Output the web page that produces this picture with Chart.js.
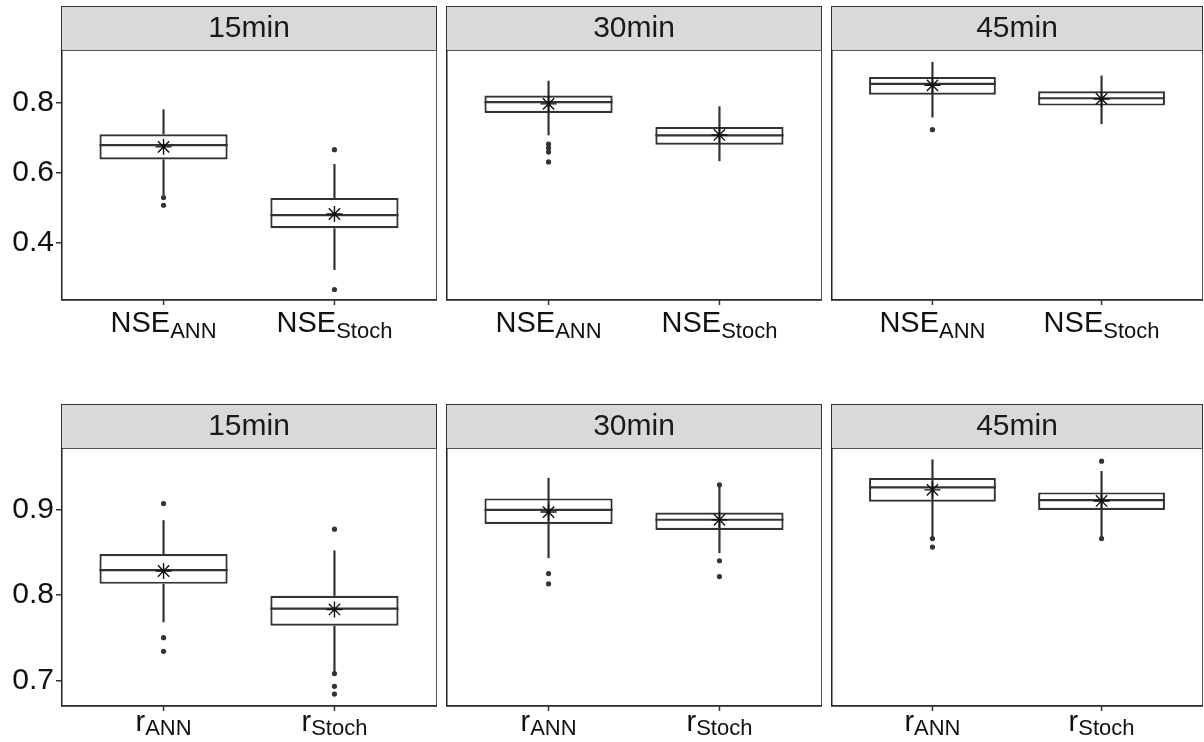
<!DOCTYPE html>
<html lang="en">
<head>
<meta charset="UTF-8">
<title>NSE and r boxplots</title>
<script src="https://cdn.jsdelivr.net/npm/chart.js"></script>
<style>
    body {
        margin: 0;
        background: #fff;
        width: 1204px;
        height: 742px;
        overflow: hidden;
        position: relative;
    }
    .panel {
        position: absolute;
    }
</style>
</head>
<body>
<script>
    // facets and groups
    const windows = ['15min', '30min', '45min'];
    const models = ['ANN', 'Stoch'];
    const xPos = [1, 2];

    // NSE row, [window][model]
    const nseLow = [[0.536, 0.322], [0.707, 0.633], [0.758, 0.739]];
    const nseQ1 = [[0.638, 0.441], [0.771, 0.680], [0.823, 0.792]];
    const nseMedian = [[0.679, 0.479], [0.802, 0.707], [0.854, 0.813]];
    const nseQ3 = [[0.710, 0.528], [0.821, 0.731], [0.874, 0.833]];
    const nseHigh = [[0.781, 0.625], [0.863, 0.790], [0.917, 0.878]];
    const nseMean = [[0.674, 0.482], [0.797, 0.708], [0.850, 0.811]];
    const nseOutliers = [
        [[0.529, 0.507], [0.666, 0.266]],
        [[0.682, 0.671, 0.659, 0.631], []],
        [[0.723], []]
    ];
    const nseTicks = [0.4, 0.6, 0.8];
    const nseRange = [0.236, 0.951];

    // r row, [window][model]
    const rLow = [[0.768, 0.710], [0.843, 0.849], [0.868, 0.868]];
    const rQ1 = [[0.813, 0.764], [0.883, 0.876], [0.909, 0.8995]];
    const rMedian = [[0.829, 0.784], [0.8995, 0.888], [0.926, 0.911]];
    const rQ3 = [[0.848, 0.799], [0.913, 0.8965], [0.937, 0.920]];
    const rHigh = [[0.8875, 0.852], [0.937, 0.927], [0.9586, 0.945]];
    const rMean = [[0.828, 0.783], [0.897, 0.888], [0.923, 0.910]];
    const rOutliers = [
        [[0.907, 0.750, 0.734], [0.877, 0.708, 0.693, 0.684]],
        [[0.825, 0.813], [0.929, 0.840, 0.8215]],
        [[0.866, 0.856], [0.9566, 0.866]]
    ];
    const rTicks = [0.7, 0.8, 0.9];
    const rRange = [0.67, 0.972];

    const rows = [
        { metric: 'NSE', low: nseLow, q1: nseQ1, med: nseMedian, q3: nseQ3, high: nseHigh, mean: nseMean, out: nseOutliers, ticks: nseTicks, range: nseRange,
          top: 0, height: 345, padTop: 50, padBottom: 45, labelBase: 32, subDrop: 5.5 },
        { metric: 'r', low: rLow, q1: rQ1, med: rMedian, q3: rQ3, high: rHigh, mean: rMean, out: rOutliers, ticks: rTicks, range: rRange,
          top: 395, height: 347, padTop: 53, padBottom: 36, labelBase: 25, subDrop: 4 }
    ];
    const cols = [
        { left: 0, width: 440, padLeft: 0, padRight: 3, yAxis: true, through: false },
        { left: 443, width: 382, padLeft: 3, padRight: 3, yAxis: false, through: true },
        { left: 828, width: 376, padLeft: 3, padRight: 1, yAxis: false, through: true }
    ];

    const FONT = '"Liberation Sans", Arial, sans-serif';
    const INK = '#333333';
    Chart.defaults.font.family = FONT;

    // strip, whiskers, medians, frame and subscript labels
    const facetPlugin = {
        id: 'facetBox',
        beforeDraw(chart, args, p) {
            const { ctx, chartArea: a } = chart;
            const h = 44;
            ctx.save();
            ctx.fillStyle = '#d9d9d9';
            ctx.fillRect(a.left, a.top - h, a.right - a.left, h);
            ctx.strokeStyle = INK;
            ctx.lineWidth = 1;
            ctx.strokeRect(a.left + 0.5, a.top - h + 0.5, a.right - a.left - 1, h);
            ctx.fillStyle = '#1a1a1a';
            ctx.font = '30px ' + FONT;
            ctx.textAlign = 'center';
            ctx.textBaseline = 'middle';
            ctx.fillText(p.title, (a.left + a.right) / 2, a.top - h / 2 + 1);
            ctx.restore();
        },
        afterDatasetDraw(chart, args, p) {
            if (args.index !== 0) return;
            const { ctx } = chart;
            const xs = chart.scales.x, ys = chart.scales.y;
            const bars = chart.getDatasetMeta(0).data;
            ctx.save();
            ctx.strokeStyle = INK;
            ctx.lineWidth = 2.2;
            xPos.forEach((xv, i) => {
                const px = xs.getPixelForValue(xv);
                const hw = bars[i].width / 2;
                const seg = (v0, v1) => {
                    ctx.beginPath();
                    ctx.moveTo(px, ys.getPixelForValue(v0));
                    ctx.lineTo(px, ys.getPixelForValue(v1));
                    ctx.stroke();
                };
                if (p.through) {
                    seg(p.low[i], p.high[i]);
                } else {
                    seg(p.low[i], p.q1[i]);
                    seg(p.q3[i], p.high[i]);
                }
                const my = ys.getPixelForValue(p.med[i]);
                ctx.beginPath();
                ctx.moveTo(px - hw, my);
                ctx.lineTo(px + hw, my);
                ctx.stroke();
            });
            ctx.restore();
        },
        afterDraw(chart, args, p) {
            const { ctx, chartArea: a } = chart;
            const xs = chart.scales.x;
            ctx.save();
            ctx.strokeStyle = '#555';
            ctx.lineWidth = 1;
            ctx.strokeRect(a.left + 0.5, a.top + 0.5, a.right - a.left - 1, a.bottom - a.top - 1);
            ctx.strokeStyle = '#222';
            ctx.lineWidth = 1.5;
            ctx.beginPath();
            ctx.moveTo(a.left + 0.75, a.top);
            ctx.lineTo(a.left + 0.75, a.bottom);
            ctx.lineTo(a.right, a.bottom);
            ctx.stroke();
            ctx.strokeStyle = INK;
            xPos.forEach((xv, i) => {
                const px = xs.getPixelForValue(xv);
                ctx.beginPath();
                ctx.moveTo(px, a.bottom);
                ctx.lineTo(px, a.bottom + 5);
                ctx.stroke();
                ctx.font = '29px ' + FONT;
                const wm = ctx.measureText(p.metric).width;
                ctx.font = '22px ' + FONT;
                const ws = ctx.measureText(models[i]).width;
                const x0 = px - (wm + ws) / 2;
                ctx.fillStyle = '#111';
                ctx.textAlign = 'left';
                ctx.textBaseline = 'alphabetic';
                ctx.font = '29px ' + FONT;
                ctx.fillText(p.metric, x0, a.bottom + p.labelBase);
                ctx.font = '22px ' + FONT;
                ctx.fillText(models[i], x0 + wm, a.bottom + p.labelBase + p.subDrop);
            });
            ctx.restore();
        }
    };

    rows.forEach((row, r) => {
        cols.forEach((col, c) => {
            const div = document.createElement('div');
            div.className = 'panel';
            div.style.left = col.left + 'px';
            div.style.top = row.top + 'px';
            div.style.width = col.width + 'px';
            div.style.height = row.height + 'px';
            const canvas = document.createElement('canvas');
            canvas.width = col.width;
            canvas.height = row.height;
            div.appendChild(canvas);
            document.body.appendChild(div);

            const boxes = xPos.map((x, i) => ({ x: x, y: [row.q1[c][i], row.q3[c][i]] }));
            const outliers = [];
            xPos.forEach((x, i) => row.out[c][i].forEach(v => outliers.push({ x: x, y: v })));
            const means = xPos.map((x, i) => ({ x: x, y: row.mean[c][i] }));

            new Chart(canvas.getContext('2d'), {
                type: 'bar',
                data: {
                    datasets: [
                        { type: 'bar', data: boxes, backgroundColor: '#ffffff', borderColor: INK, borderWidth: 2.2,
                          borderSkipped: false, barPercentage: 0.75, categoryPercentage: 1, order: 3 },
                        { type: 'scatter', data: outliers, pointRadius: 2.6, backgroundColor: INK, borderWidth: 0, order: 2 },
                        { type: 'scatter', data: means, pointStyle: 'star', pointRadius: 8, borderColor: '#111',
                          borderWidth: 1.4, backgroundColor: 'rgba(0,0,0,0)', order: 1 }
                    ]
                },
                options: {
                    responsive: false,
                    animation: false,
                    events: [],
                    layout: {
                        autoPadding: false,
                        padding: { top: row.padTop, bottom: row.padBottom, left: col.padLeft, right: col.padRight }
                    },
                    plugins: {
                        legend: { display: false },
                        tooltip: { enabled: false },
                        facetBox: {
                            title: windows[c], metric: row.metric, through: col.through,
                            low: row.low[c], q1: row.q1[c], med: row.med[c], q3: row.q3[c], high: row.high[c],
                            labelBase: row.labelBase, subDrop: row.subDrop
                        }
                    },
                    scales: {
                        x: {
                            type: 'linear', min: 0.4, max: 2.6, offset: false, display: false,
                            afterBuildTicks: s => { s.ticks = xPos.map(v => ({ value: v })); }
                        },
                        y: {
                            type: 'linear', min: row.range[0], max: row.range[1], display: col.yAxis,
                            afterBuildTicks: s => { s.ticks = row.ticks.map(v => ({ value: v })); },
                            afterFit: s => { s.width = col.yAxis ? 61 : 0; },
                            ticks: { autoSkip: false, callback: v => v.toFixed(1), font: { size: 30 }, color: '#111', padding: 2 },
                            grid: { drawOnChartArea: false, drawTicks: true, tickLength: 5, color: INK, lineWidth: 1.5 },
                            border: { display: false }
                        }
                    }
                },
                plugins: [facetPlugin]
            });
        });
    });
</script>
</body>
</html>
